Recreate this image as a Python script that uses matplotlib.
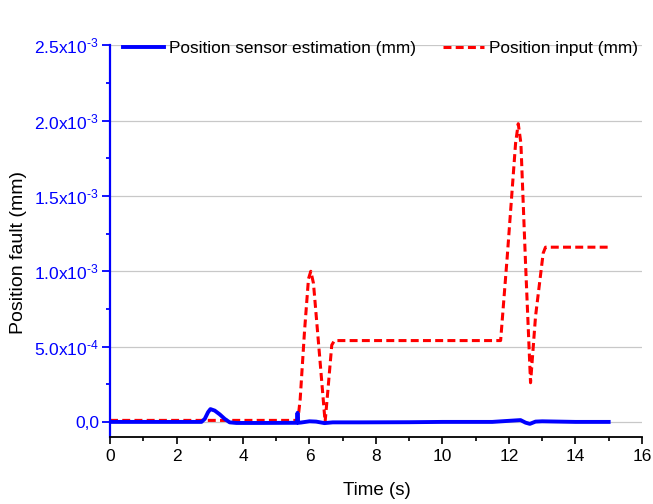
import matplotlib
matplotlib.use("Agg")
import matplotlib.pyplot as plt
from matplotlib.ticker import MultipleLocator, FuncFormatter

plt.rcParams['font.family'] = ['Liberation Sans', 'DejaVu Sans']
plt.rcParams['mathtext.fontset'] = 'custom'
plt.rcParams['mathtext.rm'] = 'Liberation Sans'

# Position sensor estimation (mm)
t_est = [0.0, 2.75, 2.85, 2.95, 3.02, 3.15, 3.3, 3.45, 3.6, 3.8, 4.5, 5.55, 5.62, 5.64, 5.66, 5.75,
         6.0, 6.2, 6.45, 6.7, 7.5, 9.0, 10.0, 11.5, 12.2, 12.35, 12.5, 12.63, 12.8, 13.0, 14.0, 15.0]
y_est = [0.0, 0.0, 2.0e-5, 6.5e-5, 8.5e-5, 7.5e-5, 5.0e-5, 2.0e-5, -3e-6, -7e-6, -7e-6, -6e-6, -6e-6, 6.0e-5, -6e-6, -4e-6,
         4e-6, 2e-6, -8e-6, -3e-6, -3e-6, -2e-6, 0.0, 0.0, 1.0e-5, 1.2e-5, -5e-6, -1.3e-5, 2e-6, 4e-6, 0.0, 0.0]

# Position input (mm)
t_in = [0.0, 5.65, 5.72, 5.85, 5.97, 6.04, 6.12, 6.3, 6.47, 6.55, 6.67, 6.75, 11.75, 11.95, 12.2, 12.28,
        12.36, 12.5, 12.65, 12.8, 13.03, 13.1, 15.0]
y_in = [1.0e-5, 1.0e-5, 1.5e-4, 6.0e-4, 9.5e-4, 1.0e-3, 9.2e-4, 4.5e-4, 0.0, 2.0e-4, 5.1e-4, 5.4e-4, 5.4e-4, 1.1e-3, 1.85e-3, 1.98e-3,
        1.85e-3, 1.05e-3, 2.6e-4, 7.0e-4, 1.12e-3, 1.16e-3, 1.16e-3]

fig = plt.figure(figsize=(6.53, 5.04), dpi=100)
ax = fig.add_axes([0.1685, 0.133, 0.8145, 0.777])

ax.plot(t_est, y_est, color='#0000ff', lw=2.8, label='Position sensor estimation (mm)', zorder=3)
ax.plot(t_in, y_in, color='#ff0000', lw=2.2, ls=(0, (2.6, 1.4)), label='Position input (mm)', zorder=2)

ax.set_xlim(0, 16)
ax.set_ylim(-1.0e-4, 2.5e-3)
ax.xaxis.set_major_locator(MultipleLocator(2))
ax.xaxis.set_minor_locator(MultipleLocator(1))
ax.yaxis.set_major_locator(MultipleLocator(5e-4))
ax.yaxis.set_minor_locator(MultipleLocator(2.5e-4))

def yfmt(v, pos):
    if abs(v) < 1e-12:
        return '0,0'
    exp = 0
    m = v
    while abs(m) < 1:
        m *= 10
        exp -= 1
    return r'$\mathregular{%.1fx10^{' % m + '\u2010' + '%d}}$' % (-exp)

ax.yaxis.set_major_formatter(FuncFormatter(yfmt))
ax.grid(axis='y', which='major', color='#c8c8c8', lw=0.9)
ax.set_axisbelow(True)

for s in ['top', 'right']:
    ax.spines[s].set_visible(False)
ax.spines['left'].set_color('#0000ff')
ax.spines['left'].set_linewidth(1.6)
ax.spines['bottom'].set_color('black')
ax.spines['bottom'].set_linewidth(1.3)

ax.tick_params(axis='y', which='both', colors='#0000ff', direction='out', width=1.3, labelsize=12.5, pad=2)
ax.tick_params(axis='y', which='major', length=6)
ax.tick_params(axis='y', which='minor', length=3)
ax.tick_params(axis='x', which='both', colors='black', direction='out', width=1.2, labelsize=12.5)
ax.tick_params(axis='x', which='major', length=5)
ax.tick_params(axis='x', which='minor', length=3)

ax.set_xlabel('Time (s)', fontsize=13.5)
ax.xaxis.set_label_coords(0.501, -0.115)
ax.set_ylabel('Position fault (mm)', fontsize=14)
ax.yaxis.set_label_coords(-0.156, 0.472)

ax.legend(loc='upper left', bbox_to_anchor=(-0.005, 1.05), ncol=2, frameon=False, fontsize=12.4,
          handlelength=2.4, handletextpad=0.25, columnspacing=1.6)

fig.savefig('out.png', dpi=100)
